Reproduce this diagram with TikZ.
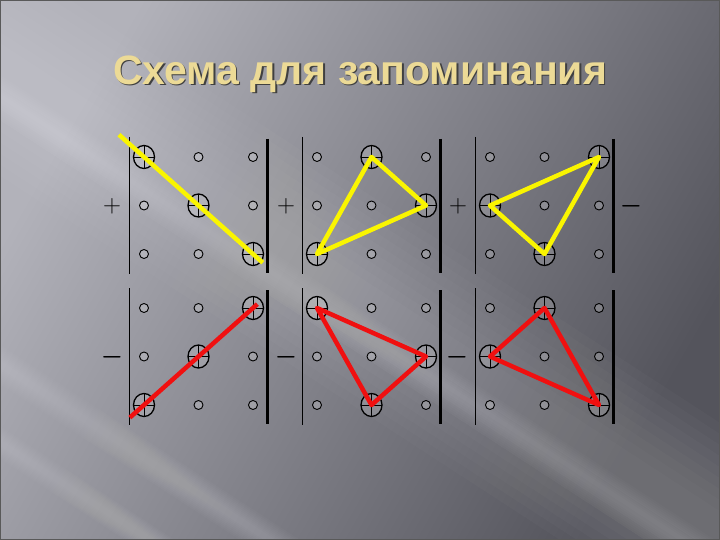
\documentclass[tikz,border=0pt]{standalone}
\usepackage{fontspec}
\usepackage{amsmath}
\usepackage{xcolor}
\usepackage{tikz}
\usetikzlibrary{calc,shapes.geometric}
\newfontfamily\titlefont{Liberation Sans}
\definecolor{bgl}{RGB}{178,178,186}
\definecolor{bgr}{RGB}{84,84,92}
\definecolor{titlecol}{RGB}{236,218,150}
\definecolor{ycol}{RGB}{250,245,0}
\definecolor{rcol}{RGB}{240,16,16}
\begin{document}
\begin{tikzpicture}[x=1pt,y=-1pt,
	elem/.style={circle,draw,line width=0.9pt,inner sep=0pt,minimum size=9pt,fill=white,fill opacity=0.2},
	term/.style={ellipse,draw,line width=1.3pt,inner sep=0pt,minimum width=21pt,minimum height=23pt,fill=white,fill opacity=0.15,
		path picture={\draw[line width=0.8pt] (path picture bounding box.north) -- (path picture bounding box.south)
			(path picture bounding box.west) -- (path picture bounding box.east);}},
	bar/.style={line width=1.4pt},
	rbar/.style={line width=2.4pt},
	psign/.style={font=\fontsize{31}{31}\selectfont,inner sep=0pt},
	msign/.style={font=\fontsize{27}{27}\selectfont,inner sep=0pt},
	yline/.style={draw=ycol,line width=4.5pt,line join=round},
	rline/.style={draw=rcol,line width=4.5pt,line join=round}]
			\useasboundingbox (0,0) rectangle (720,540);
			% фон
			\begin{scope}
			\clip (0,0) rectangle (720,540);
			\shade[top color=bgl,bottom color=bgr,shading angle=60] (0,0) rectangle (720,540);
			\foreach \x/\w/\o in {-100/170/0.02, -150/35/0.02, -560/30/0.018, -680/25/0.018}
			\foreach \f in {1,0.9,...,0.1}
			\fill[white,opacity=\o] ({\x-\w*\f},0) -- ({\x+\w*\f},0) -- ({\x+830+\w*\f},540) -- ({\x+830-\w*\f},540) -- cycle;
			\draw[line width=2pt,black!65] (0,0) rectangle (720,540);
			\end{scope}
			% заголовок
			\node[font=\titlefont\bfseries\fontsize{41}{41}\selectfont,text=black!75,inner sep=0pt] (titleshadow) at (361.5,75.5) {Схема для запоминания};
			\node[font=\titlefont\bfseries\fontsize{41}{41}\selectfont,text=titlecol,inner sep=0pt] (title) at (360,74) {Схема для запоминания};
			% определители
			\foreach \g/\gx/\gy/\ma/\mb/\mc in {p1/144/157/11/22/33, p2/317/157/12/23/31, p3/490/157/13/21/32,
				m1/144/308/13/22/31, m2/317/308/11/23/32, m3/490/308/12/21/33} {
				\draw[bar] (\gx-14.5,\gy-20) -- ++(0,137);
				\draw[rbar] (\gx+123.5,\gy-18) -- ++(0,134);
				\foreach \r in {1,2,3} \foreach \c in {1,2,3} {
					\pgfmathtruncatemacro\k{10*\r+\c}
					\pgfmathtruncatemacro\hit{(\k==\ma)||(\k==\mb)||(\k==\mc)}
					\ifnum\hit=1
					\node[term] (\g-\k) at ({\gx+54.5*(\c-1)},{\gy+48.5*(\r-1)}) {};
					\else
					\node[elem] (\g-\k) at ({\gx+54.5*(\c-1)},{\gy+48.5*(\r-1)}) {};
					\fi
				}
			}
			% знаки
			\node[psign] (sp1) at (112,206) {$+$};
			\node[psign] (sp2) at (286,206) {$+$};
			\node[psign] (sp3) at (458,206) {$+$};
			\node[msign] (sp4) at (631,206) {$\boldsymbol{-}$};
			\node[msign] (sm1) at (112,357) {$\boldsymbol{-}$};
			\node[msign] (sm2) at (286,357) {$\boldsymbol{-}$};
			\node[msign] (sm3) at (457,357) {$\boldsymbol{-}$};
			% жёлтые линии
			\coordinate (ys) at ($(p1-11)!-0.23!(p1-33)$);
			\coordinate (ye) at ($(p1-33)!-0.09!(p1-11)$);
			\draw[yline] (ys) -- (p1-11.center) -- (p1-22.center) -- (p1-33.center) -- (ye);
			\draw[yline] (p2-12.center) -- (p2-23.center) -- (p2-31.center) -- cycle;
			\draw[yline] (p3-13.center) -- (p3-21.center) -- (p3-32.center) -- cycle;
			% красные линии
			\coordinate (rs) at ($(m1-31)!-0.13!(m1-13)$);
			\coordinate (re) at ($(m1-13)!-0.04!(m1-31)$);
			\draw[rline] (rs) -- (m1-31.center) -- (m1-22.center) -- (m1-13.center) -- (re);
			\draw[rline] (m2-11.center) -- (m2-23.center) -- (m2-32.center) -- cycle;
			\draw[rline] (m3-12.center) -- (m3-21.center) -- (m3-33.center) -- cycle;
\end{tikzpicture}
\end{document}
